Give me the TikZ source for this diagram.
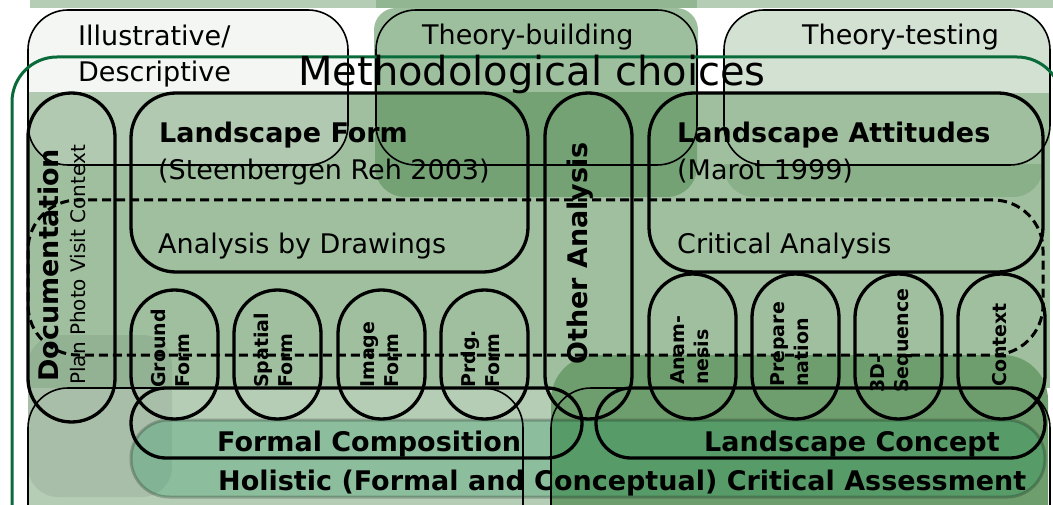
\documentclass[tikz,border=0pt]{standalone}
\usepackage{fontspec}
\setmainfont{DejaVu Sans}
\definecolor{cIllus}{HTML}{F3F6F3}
\definecolor{cTB}{HTML}{9DBF9D}
\definecolor{cTT}{HTML}{D3E1D3}
\definecolor{cA}{HTML}{9FBF9F}
\definecolor{cAL}{HTML}{B0C9B0}
\definecolor{cDark}{HTML}{74A274}
\definecolor{cRB}{HTML}{8AB08A}
\definecolor{cDarkB}{HTML}{6E9E6E}
\definecolor{cBL}{HTML}{B5CDB5}
\definecolor{cTop}{HTML}{B5CDB5}
\definecolor{cTopD}{HTML}{92B692}
\definecolor{cGreen}{HTML}{0A6B3A}
\definecolor{cHol}{RGB}{19,148,89}
\begin{document}
\begin{tikzpicture}[x=1pt,y=-1pt,
  thinbox/.style={draw=black, line width=1.6, rounded corners=40, inner sep=0},
  shape3/.style={draw=black, line width=3.3, inner sep=0},
  txt/.style={inner sep=0, anchor=base west, font=\fontsize{27}{30}\selectfont},
  btxt/.style={inner sep=0, anchor=base west, font=\bfseries\fontsize{27}{30}\selectfont},
  olab/.style={rotate=90, anchor=west, align=left, inner sep=0, font=\bfseries\fontsize{19}{24}\selectfont},
  dashbox/.style={draw=black, line width=3, dash pattern=on 9pt off 5pt, rounded corners=50, inner sep=0}
]
\useasboundingbox (0,0) rectangle (1053,505);
\clip (0,0) rectangle (1053,505);
% ---- background fills ----
\fill[cTop] (30,-20) rectangle (1053,8);
\fill[cTopD] (376,-20) rectangle (697,8);
\fill[cIllus, rounded corners=40] (28,10) rectangle (348,165);
\fill[cTB, rounded corners=22] (374,8) rectangle (698,165);
\fill[cTT, rounded corners=40] (724,10) rectangle (1050,165);
\fill[cA] (28,93) rectangle (1050,388);
\begin{scope}
  \clip (0,93) rectangle (1053,600);
  \fill[cAL, rounded corners=40] (28,10) rectangle (348,165);
  \fill[cDark, rounded corners=30] (375,10) rectangle (697,197);
\end{scope}
\begin{scope}
  \clip (0,165) rectangle (1053,600);
  \fill[cRB, rounded corners=30] (724,10) rectangle (1043,197);
\end{scope}
\fill[cBL] (28,388) rectangle (560,505);
\fill[cDarkB, rounded corners=45] (551,355) rectangle (1048,600);
\fill[black, fill opacity=0.07, rounded corners=30] (28,335) rectangle (172,497);
% ---- holistic band ----
\node[fill=cHol, fill opacity=0.25, draw=black, draw opacity=0.22, line width=3,
      rounded corners=38, inner sep=0, minimum width=914, minimum height=77] (hol) at (588,458.5) {};
% ---- thin framed boxes ----
\node[thinbox, minimum width=320, minimum height=155] (illus) at (188,87.5) {};
\node[thinbox, minimum width=321, minimum height=155] (tbuild) at (536.5,87.5) {};
\node[thinbox, minimum width=326, minimum height=155] (ttest) at (887,87.5) {};
\node[thinbox, minimum width=495, minimum height=172] (botl) at (275.5,474) {};
\node[thinbox, minimum width=499, minimum height=172] (botr) at (800.5,474) {};
% ---- methodological frame ----
\node[draw=cGreen, line width=3, rounded corners=45, inner sep=0, minimum width=1050, minimum height=563] (meth) at (537,338.5) {};
% ---- thick shapes ----
\node[shape3, rounded corners=43.5, minimum width=87, minimum height=329] (doc) at (71.5,257.5) {};
\node[shape3, rounded corners=45, minimum width=397, minimum height=179] (lform) at (329.5,182.5) {};
\node[shape3, rounded corners=43.5, minimum width=87, minimum height=326] (other) at (588.5,256) {};
\node[shape3, rounded corners=45, minimum width=394, minimum height=179] (latt) at (846,182.5) {};
\foreach \n/\cx in {gf/174.5, sf/277.5, imf/381.5, pf/484.5}
  \node[shape3, rounded corners=43.5, minimum width=87, minimum height=129] (\n) at (\cx,354.5) {};
\foreach \n/\cx in {an/692.5, pr/795.5, sq/898.5, ct/1001.5}
  \node[shape3, rounded corners=43.5, minimum width=87, minimum height=145] (\n) at (\cx,346.5) {};
\node[shape3, rounded corners=35, minimum width=451, minimum height=70] (fcomp) at (356.5,423) {};
\node[shape3, rounded corners=35, minimum width=449, minimum height=70] (lconc) at (820.5,423) {};
% ---- texts ----
\node[txt] (t1) at (78,46) {Illustrative/};
\node[txt] (t2) at (78,82) {Descriptive};
\node[txt] (t3) at (422,45) {Theory-building};
\node[txt] (t4) at (802,45) {Theory-testing};
\node[inner sep=0, anchor=base west, font=\fontsize{40}{44}\selectfont] (title) at (298,86) {Methodological choices};
\node[btxt] (t5) at (159,143) {Landscape Form};
\node[txt] (t6) at (158,180) {(Steenbergen Reh 2003)};
\node[txt] (t7) at (158,254) {Analysis by Drawings};
\node[btxt] (t8) at (677,143) {Landscape Attitudes};
\node[txt] (t9) at (677,180) {(Marot 1999)};
\node[txt] (t10) at (677,254) {Critical Analysis};
\node[btxt] (t11) at (217,451) {Formal Composition};
\node[btxt] (t12) at (704,451) {Landscape Concept};
\node[btxt] (t13) at (218,490) {Holistic (Formal and Conceptual) Critical Assessment};
\node[rotate=90, anchor=base west, inner sep=0, font=\bfseries\fontsize{27}{30}\selectfont] (doct) at (58,382) {Documentation};
\node[rotate=90, anchor=base west, inner sep=0, font=\fontsize{20}{24}\selectfont] (docs) at (85,385) {Plan Photo Visit Context};
\node[rotate=90, anchor=base west, inner sep=0, font=\bfseries\fontsize{27}{30}\selectfont] (othert) at (587,365) {Other Analysis};
\node[olab] (lgf) at (170,388) {Ground\\Form};
\node[olab] (lsf) at (273,388) {Spatial\\Form};
\node[olab] (lif) at (380,388) {Image\\Form};
\node[olab] (lpf) at (480,388) {Prdg.\\Form};
\node[olab] (lan) at (690,385) {Anam-\\nesis};
\node[olab] (lpr) at (790,387) {Prepare\\nation};
\node[olab] (lsq) at (891,393) {3D-\\Sequence};
\node[olab] (lct) at (1000,387) {Context};
% ---- dashed frame ----
\node[dashbox, minimum width=1015, minimum height=155] (crit) at (535.5,277.5) {};
\end{tikzpicture}
\end{document}
